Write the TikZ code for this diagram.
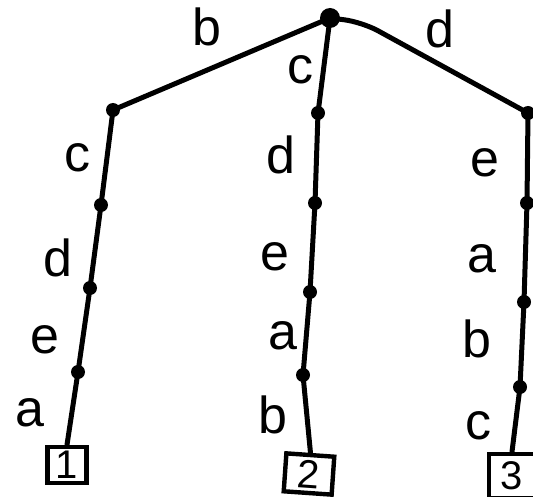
\documentclass[tikz,border=0pt]{standalone}
\usepackage{fontspec}
\setmainfont{Liberation Sans}
\begin{document}
\begin{tikzpicture}[x=1pt,y=-1pt,
  edge/.style={line width=5pt,line cap=round,line join=round},
  dot/.style={circle,fill=black,inner sep=0pt,minimum size=14pt},
  bigdot/.style={circle,fill=black,inner sep=0pt,minimum size=20pt},
  lbl/.style={inner sep=0pt,font=\fontsize{52}{52}\selectfont},
  leaf/.style={draw,line width=4.4pt,inner sep=0pt,font=\fontsize{40}{40}\selectfont}]
\useasboundingbox (0,0) rectangle (533,497);

% inner vertices of the trie
\node[bigdot] (root) at (330,18) {};
\node[dot] (l1) at (113,110) {};
\node[dot] (l2) at (101,205) {};
\node[dot] (l3) at (90,288) {};
\node[dot] (l4) at (78,372) {};
\node[dot] (m1) at (318,113) {};
\node[dot] (m2) at (315,203) {};
\node[dot] (m3) at (310,292) {};
\node[dot] (m4) at (303,375) {};
\node[dot] (r1) at (528,113) {};
\node[dot] (r2) at (527,203) {};
\node[dot] (r3) at (524,302) {};
\node[dot] (r4) at (520,387) {};

% leaves
\node[leaf,minimum width=39pt,minimum height=36pt] (b1) at (67,465) {1};
\node[leaf,minimum width=48pt,minimum height=38pt,rotate=-4] (b2) at (309,474) {2};
\node[leaf,minimum width=46pt,minimum height=44pt] (b3) at (512,476) {3};

% edges
\draw[edge] (root.center) -- (l1.center) -- (l2.center) -- (l3.center) -- (l4.center) -- (b1.north);
\draw[edge] (root.center) -- (m1.center) -- (m2.center) -- (m3.center) -- (m4.center) -- (b2.north);
\draw[edge,rounded corners=18pt] (root.center) -- (362,22) -- (r1.center);
\draw[edge] (r1.center) -- (r2.center) -- (r3.center) -- (r4.center) -- (b3.north);

% edge letters
\node[lbl] (tb) at (207,27) {b};
\node[lbl] (td) at (440,29) {d};
\node[lbl] (lc) at (77,158) {c};
\node[lbl] (ld) at (58,258) {d};
\node[lbl] (le) at (45,340) {e};
\node[lbl] (la) at (30,413) {a};
\node[lbl] (mc) at (300,70) {c};
\node[lbl] (md) at (281,155) {d};
\node[lbl] (me) at (275,257) {e};
\node[lbl] (ma) at (283,336) {a};
\node[lbl] (mb) at (273,415) {b};
\node[lbl] (re) at (485,163) {e};
\node[lbl] (ra) at (482,259) {a};
\node[lbl] (rb) at (477,339) {b};
\node[lbl] (rc) at (478,426) {c};
\end{tikzpicture}
\end{document}
